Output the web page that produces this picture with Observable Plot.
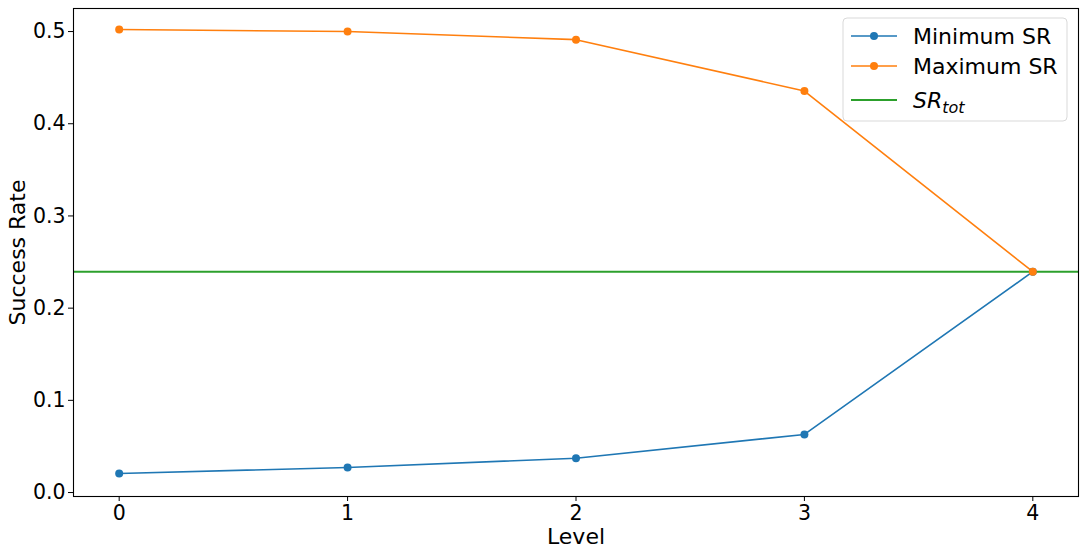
<!DOCTYPE html>
<html><head><meta charset="utf-8">
<script src="https://cdn.jsdelivr.net/npm/d3@7"></script>
<script src="https://cdn.jsdelivr.net/npm/@observablehq/plot@0.6"></script>
<style>
body{margin:0;background:#fff}
svg{display:block}
#chart svg text{font-size:22px !important;font-family:"DejaVu Sans" !important;fill:black}
#chart svg g[aria-label$="tick label"] text{font-size:20.5px !important}
</style>
</head><body><div id="chart"></div>
<script>
const levels = [0, 1, 2, 3, 4];
const minSR = [0.0206, 0.0272, 0.0372, 0.0630, 0.2395];
const maxSR = [0.5022, 0.5000, 0.4912, 0.4355, 0.2395];
const srTot = 0.2395;
const seriesNames = ["Minimum SR", "Maximum SR"];
const colors = ["#1f77b4", "#ff7f0e", "#2ca02c"];
const yTicks = [0, 0.1, 0.2, 0.3, 0.4, 0.5];
const xTicks = [0, 1, 2, 3, 4];

const rows = [];
levels.forEach((l, i) => {
  rows.push({level: l, value: minSR[i], series: seriesNames[0]});
  rows.push({level: l, value: maxSR[i], series: seriesNames[1]});
});

const W = 1084, H = 554;
const chart = Plot.plot({
  width: W, height: H,
  marginLeft: 73, marginRight: 6, marginTop: 8, marginBottom: 58,
  style: {fontFamily: "DejaVu Sans", fontSize: "22px", background: "white", color: "black"},
  x: {domain: [-0.2, 4.2], ticks: xTicks, tickFormat: d3.format("d"), tickSize: 5, tickPadding: 4,
      label: "Level", labelAnchor: "center", labelOffset: 47, labelArrow: "none"},
  y: {domain: [-0.0043, 0.525], ticks: yTicks, tickFormat: d3.format(".1f"), tickSize: 5, tickPadding: 3,
      label: "Success Rate", labelAnchor: "center", labelOffset: 64, labelArrow: "none"},
  color: {domain: seriesNames, range: colors.slice(0, 2)},
  marks: [
    Plot.ruleY([srTot], {stroke: colors[2], strokeWidth: 2}),
    Plot.line(rows, {x: "level", y: "value", z: "series", stroke: "series", strokeWidth: 1.6}),
    Plot.dot(rows, {x: "level", y: "value", fill: "series", r: 4}),
    Plot.frame({stroke: "black", strokeWidth: 1.1})
  ]
});
document.getElementById("chart").appendChild(chart);

// legend (matplotlib-style, upper right)
const svg = d3.select(chart);
const lg = svg.append("g").attr("transform", "translate(843,18)");
lg.append("rect").attr("width", 224).attr("height", 103).attr("rx", 4)
  .attr("fill", "white").attr("fill-opacity", 0.8).attr("stroke", "#d9d9d9");
const entries = [
  {name: seriesNames[0], color: colors[0], dot: true},
  {name: seriesNames[1], color: colors[1], dot: true},
  {name: "SR", sub: "tot", color: colors[2], dot: false}
];
const rowY = [18, 48, 82];
entries.forEach((e, i) => {
  const g = lg.append("g").attr("transform", `translate(0,${rowY[i]})`);
  g.append("line").attr("x1", 8).attr("x2", 54).attr("stroke", e.color)
    .attr("stroke-width", e.dot ? 1.6 : 2);
  if (e.dot) g.append("circle").attr("cx", 31).attr("r", 4).attr("fill", e.color);
  const t = g.append("text").attr("x", 70).attr("dy", "0.36em").attr("text-anchor", "start")
    .attr("font-family", "DejaVu Sans").attr("font-size", 22).attr("fill", "black");
  if (e.sub) {
    t.append("tspan").attr("font-style", "italic").text(e.name);
    t.append("tspan").attr("font-style", "italic").style("font-size", "16px").attr("dy", "0.3em").text(e.sub);
  } else {
    t.text(e.name);
  }
});
</script></body></html>
